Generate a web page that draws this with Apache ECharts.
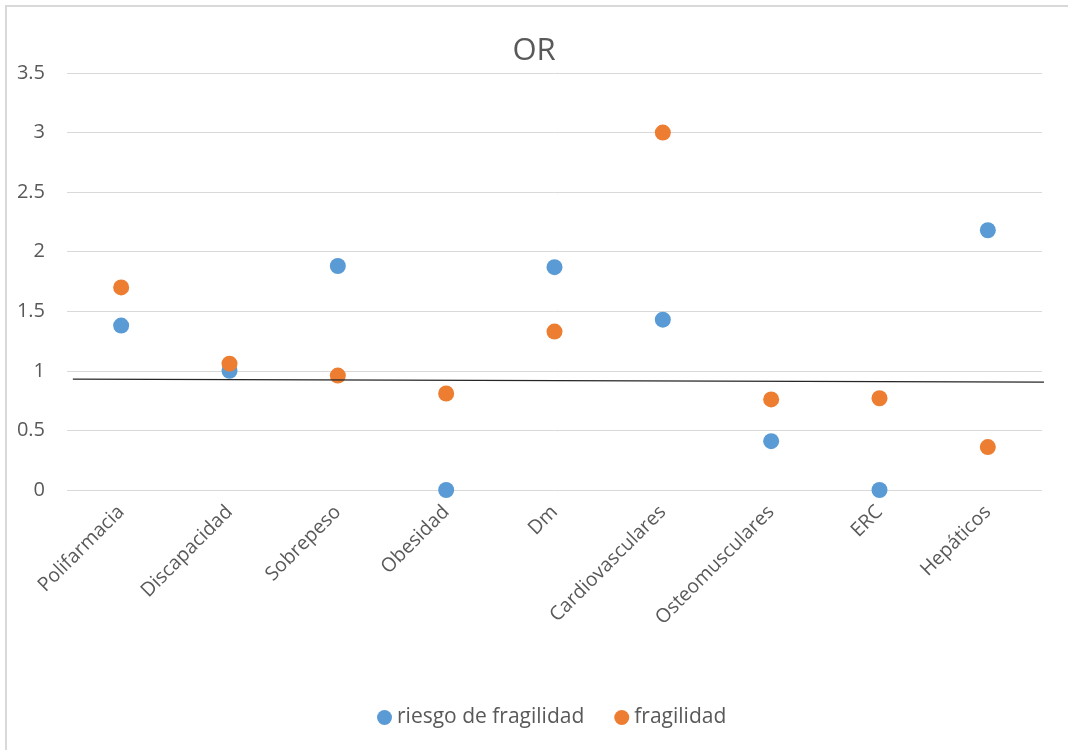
<!DOCTYPE html>
<html><head><meta charset="utf-8">
<script src="https://cdn.jsdelivr.net/npm/echarts@6/dist/echarts.min.js"></script>
<style>html,body{margin:0;padding:0;background:#fff}#c{width:1068px;height:750px}</style>
</head><body><div id="c"></div>
<script>
const categories = ['Polifarmacia','Discapacidad','Sobrepeso','Obesidad','Dm','Cardiovasculares','Osteomusculares','ERC','Hepáticos'];
const riesgo = [1.38, 1.0, 1.88, 0, 1.87, 1.43, 0.41, 0, 2.18];
const fragilidad = [1.70, 1.06, 0.96, 0.81, 1.33, 3.0, 0.76, 0.77, 0.36];
const yTicks = [0, 0.5, 1, 1.5, 2, 2.5, 3, 3.5];
// hand-drawn reference line (fraction of plot width, value)
const refLine = [[0.006, 0.93], [1.003, 0.905]];

const font = '"Open Sans", "Noto Sans", sans-serif';
const txt = '#595959';
const chart = echarts.init(document.getElementById('c'));
chart.setOption({
  animation: false,
  textStyle: {fontFamily: font},
  graphic: [{type: 'rect', shape: {x: 6, y: 6, width: 1100, height: 800}, style: {fill: 'none', stroke: '#d9d9d9', lineWidth: 2}, silent: true}],
  title: {text: 'OR', left: 'center', top: 31, textStyle: {fontFamily: font, fontSize: 31, fontWeight: 'normal', color: txt}},
  legend: {bottom: 17, left: 372, itemWidth: 15, itemHeight: 15, itemGap: 30, icon: 'circle',
    textStyle: {fontFamily: font, fontSize: 21, color: txt}},
  grid: {left: 67, right: 26, top: 73, bottom: 260},
  xAxis: [{type: 'category', data: categories, boundaryGap: true,
    axisLine: {show: false}, axisTick: {show: false},
    axisLabel: {rotate: 45, fontSize: 19.5, color: txt, fontFamily: font, margin: 19, interval: 0}},
    {type: 'value', min: 0, max: 1, show: false}],
  yAxis: {type: 'value', min: 0, max: 3.5, interval: 0.5,
    axisLine: {show: false}, axisTick: {show: false},
    splitLine: {lineStyle: {color: '#d9d9d9', width: 1}},
    axisLabel: {fontSize: 20, color: txt, fontFamily: font, margin: 22,
      formatter: v => yTicks.includes(v) ? String(v) : ''}},
  series: [
    {name: 'riesgo de fragilidad', type: 'scatter', data: riesgo, symbolSize: 16, itemStyle: {color: '#5B9BD5', opacity: 1}, z: 3},
    {name: 'fragilidad', type: 'scatter', data: fragilidad, symbolSize: 16, itemStyle: {color: '#ED7D31', opacity: 1}, z: 4},
    {name: 'ref', type: 'line', xAxisIndex: 1, data: refLine, symbol: 'none', clip: false,
      lineStyle: {color: '#262626', width: 1.3}, z: 5, silent: true}
  ]
});
chart.setOption({legend: {data: ['riesgo de fragilidad', 'fragilidad']}});
</script></body></html>
